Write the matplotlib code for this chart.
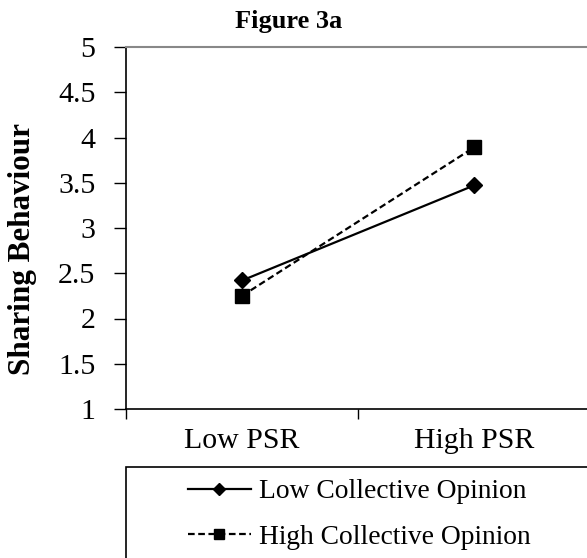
import numpy as np
import matplotlib
matplotlib.use("Agg")
import matplotlib.pyplot as plt
from matplotlib.patches import Rectangle

# data
categories = ["Low PSR", "High PSR"]
low_opinion = [2.42, 3.47]
high_opinion = [2.25, 3.89]
series_names = ["Low Collective Opinion", "High Collective Opinion"]

plt.rcParams['font.family'] = ['Liberation Serif', 'DejaVu Serif']

fig = plt.figure(figsize=(5.87, 5.58), dpi=100)
ax = fig.add_axes([126 / 587, 1 - 409 / 558, 464 / 587, 362 / 558])

x = np.arange(len(categories)) + 0.5
ax.plot(x, low_opinion, color='black', lw=1.6, ls='-', marker='D',
        markersize=8, label=series_names[0])
ax.plot(x, high_opinion, color='black', lw=1.6, ls=(0, (3, 1.6)), marker='s',
        markersize=9.5, label=series_names[1])

ax.set_xlim(0, len(categories))
ax.set_ylim(1, 5)
ax.set_yticks(np.arange(1, 5.01, 0.5))
ax.set_yticklabels(["1", "1.5", "2", "2.5", "3", "3.5", "4", "4.5", "5"])
ax.set_xticks([0, 1, 2])
ax.set_xticklabels([])
ax.set_xticks(x, minor=True)
ax.set_xticklabels(categories, minor=True)
ax.tick_params(axis='x', which='minor', length=0, pad=14, labelsize=21.5)
ax.tick_params(axis='x', which='major', length=7, width=1, direction='out')
ax.tick_params(axis='y', length=9, width=1, direction='out', pad=13, labelsize=21.5)

ax.spines['right'].set_visible(False)
ax.spines['top'].set_color('#888888')
ax.spines['top'].set_linewidth(1.5)
ax.spines['left'].set_linewidth(1.2)
ax.spines['bottom'].set_linewidth(1.2)

fig.text(23 / 587, 1 - 249 / 558, "Sharing Behaviour", fontsize=22.4,
         fontweight='bold', rotation=90, ha='center', va='center')
fig.text(0.492, 0.962, "Figure 3a", fontsize=19, fontweight='bold',
         ha='center', va='center')

# legend box below the chart
fig.patches.append(Rectangle((126 / 587, -0.02), 0.8, 0.183, transform=fig.transFigure,
                             fill=False, edgecolor='black', lw=1.2))
fig.legend(loc='center', bbox_to_anchor=(0.612, 0.078), frameon=False, fontsize=19.8,
           handlelength=2.3, handletextpad=0.3, labelspacing=0.75, markerscale=0.75,
           borderpad=0)

fig.savefig("out.png", dpi=100)
